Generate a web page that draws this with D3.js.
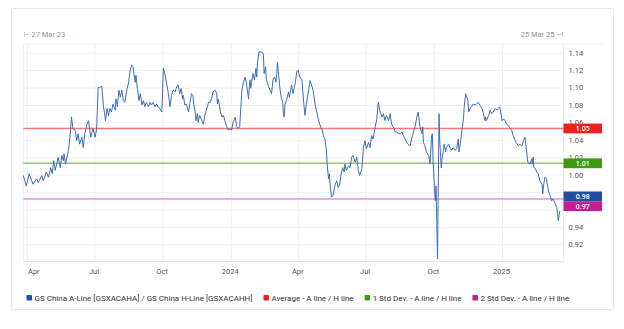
<!DOCTYPE html>
<html><head><meta charset="utf-8">
<script src="https://cdn.jsdelivr.net/npm/d3@7"></script>
<style>
html,body{margin:0;padding:0;background:#fff;}
svg{display:block;font-family:Roboto,"Noto Sans",sans-serif;}
</style></head><body>
<svg id="chart" width="624" height="329"></svg>
<script>
// ---------- DATA ----------
const seriesName = "GS China A-Line [GSXACAHA] / GS China H-Line [GSXACAHH]";
const series = [
["2023-03-27",0.999],["2023-03-31",0.987],["2023-04-04",1.001],["2023-04-09",0.989],["2023-04-14",0.995],
["2023-04-16",0.991],["2023-04-21",0.999],["2023-04-23",0.993],["2023-04-27",1.003],["2023-04-30",0.997],
["2023-05-03",1.008],["2023-05-05",1.001],["2023-05-07",1.016],["2023-05-09",1.005],["2023-05-11",1.012],
["2023-05-13",1.020],["2023-05-16",1.008],["2023-05-18",1.022],["2023-05-20",1.016],["2023-05-21",1.024],
["2023-05-23",1.012],["2023-05-27",1.028],["2023-05-29",1.043],["2023-05-31",1.066],["2023-06-02",1.053],
["2023-06-05",1.051],["2023-06-07",1.039],["2023-06-09",1.047],["2023-06-11",1.035],["2023-06-14",1.043],
["2023-06-16",1.031],["2023-06-18",1.047],["2023-06-21",1.058],["2023-06-23",1.062],["2023-06-25",1.049],
["2023-06-26",1.043],["2023-06-29",1.053],["2023-07-02",1.043],["2023-07-04",1.053],["2023-07-06",1.100],
["2023-07-11",1.101],["2023-07-13",1.080],["2023-07-16",1.062],["2023-07-18",1.076],["2023-07-20",1.068],
["2023-07-22",1.076],["2023-07-24",1.072],["2023-07-26",1.081],["2023-07-29",1.074],["2023-07-30",1.087],
["2023-08-01",1.078],["2023-08-03",1.097],["2023-08-05",1.089],["2023-08-07",1.097],["2023-08-09",1.085],
["2023-08-11",1.083],["2023-08-14",1.099],["2023-08-16",1.105],["2023-08-18",1.118],["2023-08-20",1.126],
["2023-08-22",1.124],["2023-08-25",1.106],["2023-08-26",1.114],["2023-08-28",1.099],["2023-08-30",1.085],
["2023-09-01",1.093],["2023-09-03",1.080],["2023-09-05",1.085],["2023-09-07",1.078],["2023-09-09",1.083],
["2023-09-12",1.078],["2023-09-14",1.083],["2023-09-16",1.080],["2023-09-18",1.083],["2023-09-21",1.078],
["2023-09-23",1.081],["2023-09-25",1.078],["2023-09-27",1.076],["2023-09-30",1.072],["2023-10-02",1.122],
["2023-10-04",1.116],["2023-10-08",1.097],["2023-10-10",1.085],["2023-10-11",1.078],["2023-10-13",1.091],
["2023-10-15",1.097],["2023-10-18",1.095],["2023-10-20",1.101],["2023-10-22",1.103],["2023-10-24",1.093],
["2023-10-26",1.099],["2023-10-28",1.087],["2023-10-29",1.091],["2023-10-31",1.080],["2023-11-02",1.081],
["2023-11-05",1.072],["2023-11-07",1.083],["2023-11-09",1.093],["2023-11-11",1.091],["2023-11-12",1.081],
["2023-11-14",1.072],["2023-11-15",1.062],["2023-11-17",1.070],["2023-11-18",1.060],["2023-11-20",1.068],
["2023-11-23",1.062],["2023-11-25",1.058],["2023-11-27",1.068],["2023-11-29",1.074],["2023-12-02",1.083],
["2023-12-04",1.083],["2023-12-06",1.087],["2023-12-08",1.095],["2023-12-11",1.097],["2023-12-13",1.093],
["2023-12-14",1.081],["2023-12-15",1.087],["2023-12-17",1.078],["2023-12-18",1.072],["2023-12-20",1.066],
["2023-12-22",1.068],["2023-12-24",1.062],["2023-12-26",1.056],["2023-12-29",1.051],["2023-12-31",1.053],
["2024-01-02",1.051],["2024-01-04",1.060],["2024-01-07",1.066],["2024-01-09",1.055],["2024-01-11",1.053],
["2024-01-13",1.055],["2024-01-16",1.097],["2024-01-18",1.105],["2024-01-20",1.112],["2024-01-22",1.106],
["2024-01-25",1.087],["2024-01-26",1.101],["2024-01-27",1.109],["2024-01-28",1.099],["2024-01-29",1.106],
["2024-01-31",1.116],["2024-02-02",1.109],["2024-02-04",1.122],["2024-02-05",1.112],["2024-02-06",1.128],
["2024-02-08",1.141],["2024-02-11",1.141],["2024-02-14",1.139],["2024-02-15",1.116],["2024-02-17",1.124],
["2024-02-18",1.109],["2024-02-21",1.101],["2024-02-23",1.097],["2024-02-25",1.093],["2024-02-27",1.109],
["2024-02-29",1.112],["2024-03-02",1.106],["2024-03-03",1.116],["2024-03-04",1.129],["2024-03-05",1.120],
["2024-03-07",1.101],["2024-03-09",1.089],["2024-03-11",1.083],["2024-03-12",1.070],["2024-03-13",1.066],
["2024-03-14",1.080],["2024-03-16",1.085],["2024-03-19",1.095],["2024-03-20",1.089],["2024-03-22",1.097],
["2024-03-23",1.103],["2024-03-25",1.093],["2024-03-28",1.105],["2024-03-30",1.118],["2024-04-01",1.120],
["2024-04-03",1.112],["2024-04-06",1.109],["2024-04-08",1.087],["2024-04-10",1.068],["2024-04-12",1.081],
["2024-04-15",1.097],["2024-04-17",1.108],["2024-04-19",1.103],["2024-04-21",1.097],["2024-04-24",1.080],
["2024-04-26",1.072],["2024-04-28",1.064],["2024-04-30",1.058],["2024-05-02",1.053],["2024-05-03",1.053],
["2024-05-05",1.045],["2024-05-07",1.041],["2024-05-09",1.028],["2024-05-10",1.012],["2024-05-12",0.995],
["2024-05-13",1.001],["2024-05-14",0.989],["2024-05-16",0.974],["2024-05-18",0.976],["2024-05-21",0.989],
["2024-05-23",0.993],["2024-05-25",0.985],["2024-05-27",0.989],["2024-05-29",1.001],["2024-05-31",1.008],
["2024-06-02",1.003],["2024-06-03",1.012],["2024-06-05",1.005],["2024-06-08",1.010],["2024-06-10",1.008],
["2024-06-12",1.020],["2024-06-14",1.022],["2024-06-17",1.014],["2024-06-19",1.020],["2024-06-21",1.005],
["2024-06-23",0.999],["2024-06-26",1.007],["2024-06-28",1.031],["2024-06-30",1.039],["2024-07-02",1.030],
["2024-07-05",1.037],["2024-07-07",1.031],["2024-07-09",1.045],["2024-07-11",1.041],["2024-07-14",1.055],
["2024-07-16",1.064],["2024-07-18",1.083],["2024-07-20",1.074],["2024-07-23",1.066],["2024-07-25",1.070],
["2024-07-27",1.062],["2024-07-29",1.068],["2024-08-01",1.062],["2024-08-03",1.070],["2024-08-05",1.058],
["2024-08-07",1.055],["2024-08-10",1.049],["2024-08-12",1.049],["2024-08-14",1.047],["2024-08-17",1.047],
["2024-08-19",1.049],["2024-08-21",1.045],["2024-08-23",1.041],["2024-08-27",1.035],["2024-08-30",1.033],
["2024-09-01",1.041],["2024-09-03",1.047],["2024-09-06",1.056],["2024-09-08",1.066],["2024-09-10",1.072],
["2024-09-12",1.056],["2024-09-15",1.047],["2024-09-16",1.055],["2024-09-17",1.037],["2024-09-19",1.033],
["2024-09-21",1.026],["2024-09-24",1.022],["2024-09-26",1.012],["2024-09-28",1.045],["2024-09-29",1.047],
["2024-09-30",1.016],["2024-10-02",0.982],["2024-10-03",0.970],["2024-10-04",0.987],["2024-10-06",0.903],
["2024-10-08",1.070],["2024-10-09",1.039],["2024-10-11",1.008],["2024-10-12",1.018],["2024-10-14",1.028],
["2024-10-15",1.035],["2024-10-17",1.026],["2024-10-18",1.031],["2024-10-21",1.035],["2024-10-23",1.030],
["2024-10-25",1.028],["2024-10-27",1.031],["2024-10-30",1.028],["2024-11-01",1.030],["2024-11-03",1.041],
["2024-11-04",1.026],["2024-11-05",1.031],["2024-11-08",1.051],["2024-11-10",1.064],["2024-11-11",1.078],
["2024-11-13",1.093],["2024-11-16",1.085],["2024-11-17",1.072],["2024-11-19",1.076],["2024-11-21",1.078],
["2024-11-23",1.081],["2024-11-26",1.080],["2024-11-30",1.083],["2024-12-02",1.080],["2024-12-05",1.076],
["2024-12-07",1.070],["2024-12-09",1.062],["2024-12-10",1.066],["2024-12-11",1.062],["2024-12-14",1.068],
["2024-12-16",1.074],["2024-12-18",1.070],["2024-12-20",1.072],["2024-12-23",1.076],["2024-12-25",1.074],
["2024-12-27",1.076],["2024-12-29",1.078],["2025-01-01",1.062],["2025-01-03",1.064],["2025-01-05",1.062],
["2025-01-07",1.058],["2025-01-10",1.056],["2025-01-12",1.053],["2025-01-14",1.051],["2025-01-16",1.045],
["2025-01-19",1.039],["2025-01-20",1.037],["2025-01-23",1.033],["2025-01-25",1.035],["2025-01-28",1.033],
["2025-01-30",1.039],["2025-02-01",1.043],["2025-02-03",1.028],["2025-02-05",1.014],["2025-02-08",1.012],
["2025-02-10",1.018],["2025-02-11",1.012],["2025-02-12",1.020],["2025-02-13",1.008],["2025-02-15",1.007],
["2025-02-17",1.003],["2025-02-19",1.001],["2025-02-21",0.993],["2025-02-24",0.989],["2025-02-25",0.978],
["2025-02-26",0.987],["2025-02-28",0.997],["2025-03-02",0.995],["2025-03-05",0.980],["2025-03-07",0.976],
["2025-03-09",0.970],["2025-03-11",0.972],["2025-03-13",0.968],["2025-03-16",0.962],["2025-03-18",0.947],
["2025-03-20",0.958]
];
const refNames  = ["Average - A line / H line", "1 Std Dev. - A line / H line", "2 Std Dev. - A line / H line"];
const refValues = [1.053, 1.013, 0.972];
const refLabels = ["1.05", "1.01", "0.97"];
const lastLabel = "0.98";
const lastLabelValue = 0.975;
const yTicks = [0.92, 0.94, 0.96, 0.98, 1.00, 1.02, 1.04, 1.06, 1.08, 1.10, 1.12, 1.14];
const yTicksHiddenByBoxes = [0.96, 0.98];
const yDomain = [0.90, 1.15];
const xDomain = ["2023-03-27", "2025-03-25"];
const xTickDates  = ["2023-04-01","2023-07-01","2023-10-01","2024-01-01","2024-04-01","2024-07-01","2024-10-01","2025-01-01"];
const xTickLabels = ["Apr","Jul","Oct","2024","Apr","Jul","Oct","2025"];
const rangeLabels = ["27 Mar 23", "25 Mar 25"];

// ---------- STYLE ----------
const seriesColor = "#3d6db6";
const refLineColors = ["#f07a78", "#95c572", "#e792d6"];
const refBoxColors  = ["#ee1f1f", "#409b12", "#c81d90"];
const seriesBoxColor = "#1f4f9d";

const parse = d3.utcParse("%Y-%m-%d");
const svg = d3.select("#chart");
const L = 23.3, R = 563.5, T = 44, B = 261.7;

const x = d3.scaleUtc().domain(xDomain.map(parse)).range([L, R]);
const y = d3.scaleLinear().domain(yDomain).range([B, T]);

// card
svg.append("rect").attr("x", 11.5).attr("y", 8.5).attr("width", 602).attr("height", 301)
  .attr("rx", 2).attr("fill", "none").attr("stroke", "#e4e6ea");

// horizontal grid + y labels
const yAxisG = svg.append("g").attr("transform", `translate(${R},0)`)
  .call(d3.axisRight(y).tickValues(yTicks)
    .tickFormat(d => yTicksHiddenByBoxes.includes(d) ? "" : d3.format(".2f")(d))
    .tickSize(-(R - L)).tickPadding(5));
yAxisG.select(".domain").remove();
yAxisG.selectAll(".tick line").attr("stroke", "#eef0f4");
yAxisG.selectAll(".tick text").attr("fill", "#555").attr("font-size", "7.5px").attr("font-family", "Roboto,sans-serif");

// vertical grid + x labels
const xAxisG = svg.append("g").attr("transform", `translate(0,${B})`)
  .call(d3.axisBottom(x).tickValues(xTickDates.map(parse))
    .tickFormat((d, i) => xTickLabels[i]).tickSize(-(B - T)).tickPadding(7));
xAxisG.select(".domain").remove();
xAxisG.selectAll(".tick line").attr("stroke", "#eef0f4");
xAxisG.selectAll(".tick text").attr("fill", "#555").attr("font-size", "7.5px")
  .attr("font-family", "Roboto,sans-serif")
  .attr("text-anchor", (d, i) => i === 0 ? "start" : "middle")
  .attr("dx", (d, i) => i === 0 ? 0.5 : -1);

// plot frame lines
svg.append("line").attr("x1", L).attr("x2", 602).attr("y1", T).attr("y2", T).attr("stroke", "#eceef2");
svg.append("line").attr("x1", L).attr("x2", L).attr("y1", T).attr("y2", B).attr("stroke", "#eceef2");
svg.append("line").attr("x1", L).attr("x2", R).attr("y1", B).attr("y2", B).attr("stroke", "#d9dfe6");
svg.append("line").attr("x1", R).attr("x2", R).attr("y1", T).attr("y2", B).attr("stroke", "#eceef2");

// reference lines
refValues.forEach((v, i) => {
  svg.append("line").attr("x1", L).attr("x2", R).attr("y1", y(v)).attr("y2", y(v))
    .attr("stroke", refLineColors[i]).attr("stroke-width", 1.5);
});

// series line
const line = d3.line().x(d => x(parse(d[0]))).y(d => y(d[1]));
svg.append("path").datum(series).attr("d", line)
  .attr("fill", "none").attr("stroke", seriesColor).attr("stroke-width", 1).attr("stroke-linejoin", "round");

// value boxes (stacked to avoid overlap)
const boxH = 9.8, boxW = 38.5;
const boxes = [
  {v: refValues[0], t: refLabels[0], c: refBoxColors[0]},
  {v: refValues[1], t: refLabels[1], c: refBoxColors[1]},
  {v: lastLabelValue, t: lastLabel, c: seriesBoxColor},
  {v: refValues[2], t: refLabels[2], c: refBoxColors[2]}
].map(b => ({...b, top: y(b.v) - boxH / 2}));
boxes.sort((a, b) => a.top - b.top);
for (let i = 1; i < boxes.length; i++) {
  if (boxes[i].top < boxes[i - 1].top + boxH) boxes[i].top = boxes[i - 1].top + boxH;
}
boxes.forEach(b => {
  svg.append("rect").attr("x", R).attr("y", b.top).attr("width", boxW).attr("height", boxH).attr("fill", b.c);
  svg.append("text").attr("x", R + boxW / 2).attr("y", b.top + boxH / 2).attr("dy", "0.35em")
    .attr("text-anchor", "middle").attr("fill", "#fff").attr("font-size", "7px").attr("font-weight", 500)
    .text(b.t);
});

// range labels at top
const topY = 37;
svg.append("line").attr("x1", 24.5).attr("x2", 24.5).attr("y1", 32).attr("y2", 37).attr("stroke", "#c5c9cf");
svg.append("line").attr("x1", 24.5).attr("x2", 28.5).attr("y1", 34.5).attr("y2", 34.5).attr("stroke", "#c5c9cf");
svg.append("text").attr("x", 31.5).attr("y", topY).attr("fill", "#8d929a").attr("font-size", "7.5px").text(rangeLabels[0]);
svg.append("text").attr("x", 554.5).attr("y", topY).attr("text-anchor", "end").attr("fill", "#8d929a").attr("font-size", "7.5px").text(rangeLabels[1]);
svg.append("line").attr("x1", 557.5).attr("x2", 562).attr("y1", 34.5).attr("y2", 34.5).attr("stroke", "#c5c9cf");
svg.append("line").attr("x1", 562.5).attr("x2", 562.5).attr("y1", 32).attr("y2", 37).attr("stroke", "#c5c9cf");

// legend
const legendItems = [
  {name: seriesName, c: seriesBoxColor},
  {name: refNames[0], c: refBoxColors[0]},
  {name: refNames[1], c: refBoxColors[1]},
  {name: refNames[2], c: refBoxColors[2]}
];
let lx = 26.5;
const ly = 298;
legendItems.forEach(it => {
  svg.append("rect").attr("x", lx).attr("y", ly - 3).attr("width", 5.5).attr("height", 5.5).attr("rx", 0.8).attr("fill", it.c);
  const t = svg.append("text").attr("x", lx + 8).attr("y", ly).attr("dy", "0.35em")
    .attr("fill", "#333").attr("font-size", "8px").text(it.name);
  lx += 8 + t.node().getComputedTextLength() + 11;
});
</script>
</body></html>
